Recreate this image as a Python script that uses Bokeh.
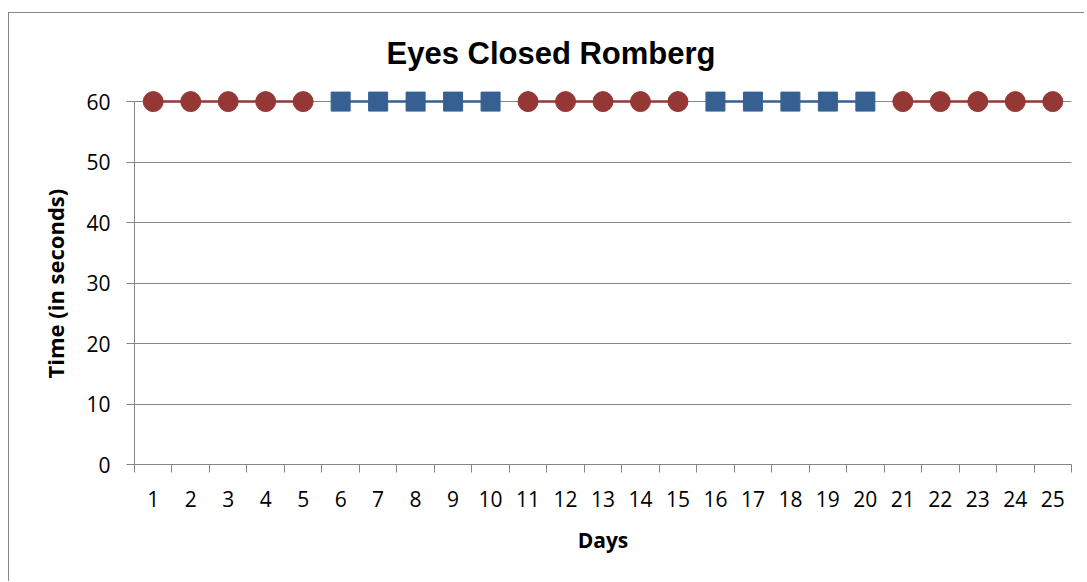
from bokeh.plotting import figure
from bokeh.models import Range1d, FixedTicker, ColumnDataSource, Title
from bokeh.embed import file_html
from bokeh.resources import INLINE

title_text = "Eyes Closed Romberg"
x_label = "Days"
y_label = "Time (in seconds)"

days = list(range(1, 26))
y_ticks = [0, 10, 20, 30, 40, 50, 60]

# segments of the series, each drawn separately
seg1_days = [1, 2, 3, 4, 5]
seg1_vals = [60, 60, 60, 60, 60]
seg2_days = [6, 7, 8, 9, 10]
seg2_vals = [60, 60, 60, 60, 60]
seg3_days = [11, 12, 13, 14, 15]
seg3_vals = [60, 60, 60, 60, 60]
seg4_days = [16, 17, 18, 19, 20]
seg4_vals = [60, 60, 60, 60, 60]
seg5_days = [21, 22, 23, 24, 25]
seg5_vals = [60, 60, 60, 60, 60]

RED = "#953735"
BLUE = "#366092"
GRAY = "#868686"

segments = [
    (seg1_days, seg1_vals, "circle", RED),
    (seg2_days, seg2_vals, "square", BLUE),
    (seg3_days, seg3_vals, "circle", RED),
    (seg4_days, seg4_vals, "square", BLUE),
    (seg5_days, seg5_vals, "circle", RED),
]

p = figure(width=1076, height=569, output_backend="svg", toolbar_location=None,
           x_range=Range1d(days[0] - 0.5, days[-1] + 0.5),
           y_range=Range1d(y_ticks[0], 62),
           min_border_left=125, min_border_right=14, min_border_top=76, min_border_bottom=118)
p.styles = {"border-left": "1px solid #888888", "border-top": "1px solid #888888",
            "margin-top": "12px", "margin-left": "8px"}

p.title.text = title_text
p.title.text_font = "Liberation Sans"
p.title.text_font_style = "bold"
p.title.text_font_size = "31px"
p.title.align = "left"
p.title.text_color = "#000000"
p.title.offset = 252
p.title.standoff = 38

p.outline_line_color = None
p.background_fill_color = "white"
p.border_fill_color = "white"

for d, v, kind, col in segments:
    src = ColumnDataSource(dict(x=d, y=v))
    p.line("x", "y", source=src, line_color=col, line_width=2.5)
    p.scatter("x", "y", source=src, marker=kind, size=20 if kind == "circle" else 19,
              fill_color=col, line_color=col, line_width=1)

p.xgrid.visible = False
p.ygrid.ticker = FixedTicker(ticks=y_ticks)
p.ygrid.grid_line_color = GRAY
p.ygrid.grid_line_width = 1

xa = p.xaxis[0]
xa.ticker = FixedTicker(ticks=days, minor_ticks=[d - 0.5 for d in days] + [days[-1] + 0.5])
xa.major_tick_out = 0
xa.major_tick_in = 0
xa.minor_tick_out = 8
xa.minor_tick_in = 0
xa.minor_tick_line_color = GRAY
xa.axis_line_color = GRAY
xa.major_label_text_font = "Open Sans"
xa.major_label_text_font_size = "21px"
xa.major_label_text_color = "#000000"
xa.major_label_standoff = 18
xa.axis_label = x_label
xa.axis_label_text_font = "Open Sans"
xa.axis_label_text_font_style = "bold"
xa.axis_label_text_font_size = "21px"
xa.axis_label_text_color = "#000000"
xa.axis_label_standoff = 16

ya = p.yaxis[0]
ya.ticker = FixedTicker(ticks=y_ticks)
ya.bounds = (y_ticks[0], y_ticks[-1])
ya.major_tick_out = 8
ya.major_tick_in = 0
ya.minor_tick_out = 0
ya.minor_tick_in = 0
ya.major_tick_line_color = GRAY
ya.axis_line_color = GRAY
ya.major_label_text_font = "Open Sans"
ya.major_label_text_font_size = "21px"
ya.major_label_text_color = "#000000"
ya.major_label_standoff = 16

ytitle = Title(text=y_label, align="left", offset=86, standoff=28,
               text_font="Open Sans", text_font_style="bold", text_font_size="22px",
               text_color="#000000")
p.add_layout(ytitle, "left")

open("out.html", "w").write(file_html(p, INLINE))
